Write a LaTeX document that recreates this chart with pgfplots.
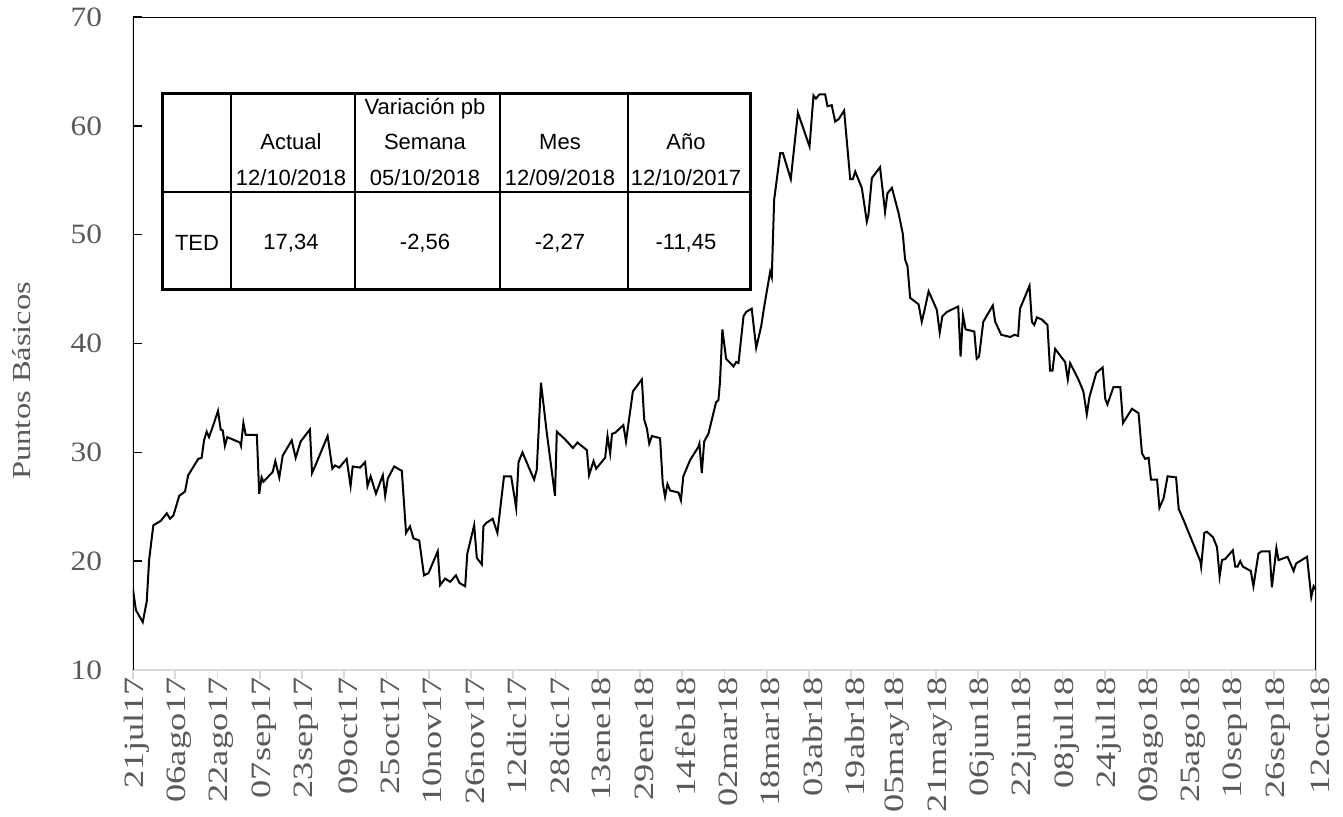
\documentclass[border=0pt]{standalone}
\usepackage{fontspec}
\setmainfont{Liberation Serif}
\newfontfamily\lsfont{Liberation Serif}[FakeStretch=1.3, Scale=1.4]
\newfontfamily\ytfont{Liberation Serif}[FakeStretch=1.12, Scale=1.4]
\newfontfamily\ylfont{Liberation Serif}[FakeStretch=1.25, Scale=1.3]
\newfontfamily\tabfont{Liberation Sans}
\usepackage{pgfplots}
\pgfplotsset{compat=1.18}
\definecolor{lblgray}{RGB}{89,89,89}
\definecolor{axgray}{RGB}{217,217,217}

\begin{document}
\begin{tikzpicture}
\useasboundingbox (0,0) rectangle (671.5pt,408pt);
\begin{axis}[
    at={(66.5pt,73pt)}, anchor=south west,
    scale only axis,
    width=591.5pt, height=326.5pt,
    xmin=0, xmax=448,
    ymin=10, ymax=70,
    axis line style={draw=none},
    tick align=inside,
    major tick length=4.5pt,
    xtick pos=bottom, ytick pos=left,
    ytick={10,20,...,70},
    xtick={0,16,...,448},
    xticklabels={21jul17,06ago17,22ago17,07sep17,23sep17,09oct17,25oct17,10nov17,26nov17,12dic17,28dic17,13ene18,29ene18,14feb18,02mar18,18mar18,03abr18,19abr18,05may18,21may18,06jun18,22jun18,08jul18,24jul18,09ago18,25ago18,10sep18,26sep18,12oct18},
    /pgf/number format/assume math mode=true,
    ytick style={black, line width=0.8pt},
    xtick style={axgray, line width=0.8pt, yshift=-4.5pt},
    ticklabel style={text=lblgray},
    xticklabel style={font=\lsfont, rotate=90, anchor=east, yshift=-2pt},
    yticklabel style={font=\ytfont, xshift=-12pt},
    ylabel={Puntos Básicos},
    ylabel style={font=\ylfont, text=lblgray,
        at={(axis description cs:-0.094,0.443)}, anchor=center},
]
\addplot[black, line width=1pt] coordinates {
(0,17.4) (1.1,15.5) (3.7,14.4) (5.2,16.3) (6.1,20.1) (7.7,23.3) (10.5,23.7)
(12.8,24.4) (14.0,23.9) (15.3,24.2) (17.5,26.0) (19.7,26.4) (20.9,27.9)
(22.2,28.4) (24.7,29.4) (26.0,29.5) (26.9,31.1) (27.9,31.9) (28.8,31.4)
(30.4,32.5) (32.2,33.8) (33.2,32.1) (34.0,32.0) (34.8,30.6) (35.7,31.4)
(40.5,30.9) (40.9,30.6) (41.8,32.7) (42.7,31.6) (46.9,31.6) (47.8,26.2)
(48.7,27.7) (49.4,27.3) (52.9,28.2) (53.9,29.2) (55.4,27.7) (56.7,29.7)
(60.1,31.1) (61.6,29.5) (63.5,31.0) (67.0,32.1) (67.8,28.1) (68.9,28.7)
(73.7,31.5) (75.5,28.5) (76.5,28.8) (78.1,28.6) (80.9,29.4) (82.4,26.9)
(83.2,28.7) (86.0,28.6) (87.9,29.1) (88.8,26.9) (90.0,27.8) (92.0,26.2)
(94.6,27.9) (95.5,26.0) (96.5,27.6) (98.9,28.7) (101.8,28.3) (103.4,22.6)
(104.9,23.2) (106.2,22.1) (108.4,21.9) (110.2,18.7) (111.9,18.9) (115.4,20.9)
(116.3,17.8) (118.2,18.4) (120.1,18.1) (122.3,18.7) (123.6,18.0) (125.8,17.7)
(126.6,20.7) (129.2,23.3) (130.2,20.3) (132.1,19.7) (132.7,23.2) (133.7,23.5)
(136.2,23.9) (138.0,22.6) (140.5,27.8) (143.2,27.8) (145.1,24.9) (146.0,29.1)
(147.5,30.0) (150.1,28.5) (151.9,27.5) (152.9,28.4) (154.5,36.4) (156.7,31.8)
(159.8,26.0) (160.5,31.9) (163.6,31.2) (166.6,30.4) (168.3,30.9) (171.9,30.2)
(172.7,27.9) (174.4,29.2) (175.4,28.5) (178.8,29.5) (179.7,31.5) (180.7,29.9)
(181.4,31.7) (182.6,31.8) (185.7,32.5) (186.7,31.0) (189.3,35.6) (192.7,36.7)
(193.6,33.0) (194.6,32.2) (195.5,30.8) (196.5,31.5) (199.6,31.3) (200.6,27.2)
(201.5,25.9) (202.4,27.1) (203.4,26.5) (206.6,26.3) (207.5,25.6) (208.4,27.8)
(211.0,29.3) (214.1,30.5) (214.5,30.8) (215.4,28.1) (216.3,31.0) (217.9,31.7)
(220.8,34.6) (221.7,34.8) (222.3,36.5) (223.2,41.3) (224.6,38.6) (227.4,37.9)
(228.4,38.3) (229.3,38.2) (231.2,42.5) (232.2,42.9) (234.3,43.2) (236.0,39.6)
(237.9,41.6) (239.1,43.5) (241.3,46.6) (241.9,46.1) (242.8,53.2) (245.1,57.5)
(246.1,57.5) (249.1,55.1) (251.8,61.2) (256.2,58.1) (257.7,62.8) (258.6,62.5)
(260.0,62.9) (262.1,62.9) (263.0,61.8) (264.6,61.9) (265.9,60.4) (267.2,60.6)
(269.3,61.4) (271.6,55.1) (272.6,55.1) (273.5,55.8) (276.0,54.3) (277.9,51.2)
(278.5,51.8) (279.8,55.2) (282.9,56.2) (284.8,52.1) (285.7,53.8) (287.4,54.3)
(289.9,52.0) (291.5,50.1) (292.4,47.7) (293.3,47.1) (294.3,44.2) (297.5,43.6)
(298.7,42.0) (299.6,42.9) (301.3,44.8) (304.4,43.1) (305.5,41.0) (306.5,42.5)
(308.2,42.9) (312.5,43.4) (313.4,38.8) (314.3,42.6) (315.3,41.3) (318.6,41.1)
(319.5,38.6) (320.4,38.8) (322.0,42.0) (325.6,43.5) (326.5,42.0) (328.8,40.8)
(332.2,40.6) (333.8,40.8) (335.2,40.7) (335.9,43.2) (339.5,45.3) (340.4,42.0)
(341.3,41.7) (342.3,42.4) (344.2,42.2) (346.3,41.7) (347.3,37.5) (348.2,37.5)
(349.2,39.5) (353.0,38.3) (354.0,36.7) (354.9,38.2) (358.0,36.7) (359.9,35.6)
(361.2,33.5) (362.2,35.1) (364.8,37.3) (367.2,37.8) (368.2,34.9) (369.0,34.4)
(371.3,36.0) (373.9,36.0) (374.9,32.7) (378.3,34.0) (380.8,33.6) (382.1,29.9)
(383.3,29.4) (384.6,29.5) (385.5,27.5) (387.8,27.5) (388.7,24.9) (390.3,25.8)
(391.8,27.8) (395.0,27.7) (396.0,24.8) (397.8,23.8) (404.2,20.0) (404.5,19.5)
(405.7,22.6) (406.7,22.7) (409.0,22.2) (410.5,21.3) (411.5,18.6) (412.4,20.1)
(413.6,20.2) (416.5,21.0) (417.4,19.5) (418.3,19.5) (419.3,20.0) (420.3,19.5)
(423.3,19.1) (424.3,17.7) (426.2,20.7) (427.3,20.9) (430.4,20.9) (431.3,17.6)
(433.0,21.2) (433.8,20.1) (437.2,20.4) (438.3,19.8) (439.5,19.1) (440.5,19.8)
(444.6,20.4) (446.2,16.7) (447.1,17.7) (448,17.34)
};

% frame: black left/top/right, light gray bottom
\draw[axgray, line width=1pt] (rel axis cs:0,0) -- (rel axis cs:1,0);
\draw[black, line width=1pt] (rel axis cs:0,0) -- (rel axis cs:0,1)
    -- (rel axis cs:1,1) -- (rel axis cs:1,0);

% inset table
\fill[white] (axis cs:11.36,44.92) rectangle (axis cs:233.66,62.97);
\draw[line width=0.8pt] (axis cs:37.11,44.92) -- (axis cs:37.11,62.97)
    (axis cs:84.07,44.92) -- (axis cs:84.07,62.97)
    (axis cs:138.98,44.92) -- (axis cs:138.98,62.97)
    (axis cs:187.46,44.92) -- (axis cs:187.46,62.97)
    (axis cs:11.36,53.92) -- (axis cs:233.66,53.92);
\draw[line width=1.5pt] (axis cs:11.36,44.92) rectangle (axis cs:233.66,62.97);
\begin{scope}[font=\tabfont\fontsize{11}{13}\selectfont]
\node at (axis cs:110.58,61.58) {Variación pb};
\node at (axis cs:59.83,58.52) {Actual};
\node at (axis cs:110.58,58.52) {Semana};
\node at (axis cs:161.7,58.52) {Mes};
\node at (axis cs:209.4,58.52) {Año};
\node at (axis cs:59.83,55.24) {12/10/2018};
\node at (axis cs:110.58,55.24) {05/10/2018};
\node at (axis cs:161.7,55.24) {12/09/2018};
\node at (axis cs:209.4,55.24) {12/10/2017};
\node at (axis cs:24.24,49.24) {TED};
\node at (axis cs:59.83,49.24) {17,34};
\node at (axis cs:110.58,49.24) {-2,56};
\node at (axis cs:161.7,49.24) {-2,27};
\node at (axis cs:209.4,49.24) {-11,45};
\end{scope}
\end{axis}
\end{tikzpicture}
\end{document}
